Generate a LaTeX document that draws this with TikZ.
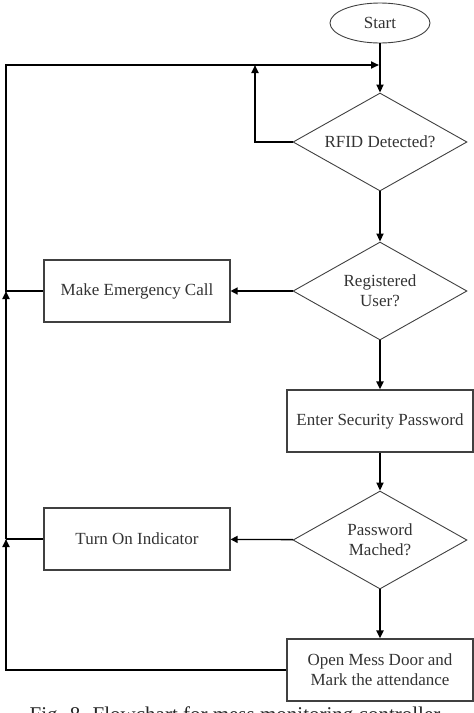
\documentclass[tikz,border=0pt]{standalone}
\usepackage{fontspec}
\setmainfont{Liberation Serif}
\usetikzlibrary{shapes.geometric,arrows.meta,calc}

\begin{document}
\begin{tikzpicture}
  [
    x=1pt, y=-1pt,
    block/.style =
      {draw=black!75, line width=1.1pt, rectangle, align=center, text=black!80,
       minimum width=186pt, minimum height=62pt, font=\fontsize{17}{20}\selectfont},
    decision/.style =
      {draw=black!75, line width=0.9pt, diamond, aspect=1.78, align=center, text=black!80,
       minimum width=174pt, minimum height=98pt, inner sep=1pt, font=\fontsize{17}{20}\selectfont},
    terminal/.style =
      {draw=black!75, line width=0.9pt, ellipse, text=black!80,
       minimum width=100pt, minimum height=40pt, font=\fontsize{17}{20}\selectfont},
    flow/.style =
      {line width=1.9pt, -{Triangle[length=8pt, width=7pt]}},
    back/.style =
      {line width=1.3pt, -{Triangle[length=7pt, width=7pt]}}
  ]

\clip (0,0) rectangle (474,713);

\node[terminal] (start) at (380,23) {Start};
\node[decision] (rfid) at (380,142) {RFID Detected?};
\node[decision] (reg) at (380,291) {Registered\\User?};
\node[block] (pass) at (380,421) {Enter Security Password};
\node[decision] (match) at (380,540) {Password\\Mached?};
\node[block] (open) at (380,670) {Open Mess Door and\\Mark the attendance};

\node[block] (call) at (137,291) {Make Emergency Call};
\node[block] (ind) at (137,539) {Turn On Indicator};

\node[font=\fontsize{21}{24}\selectfont, text=black!85, anchor=base] (cap) at (235,721)
  {Fig. 8. Flowchart for mess monitoring controller};

\coordinate (top) at (379,65);
\coordinate (loop) at (255,65);
\coordinate (lt) at (6,65);
\coordinate (lcall) at (6,291);
\coordinate (lind) at (6,539);

\draw [flow] (start) -- (rfid);
\draw [flow] (rfid.west) -| (loop);
\draw [flow] (call.west) -- (lcall) -- (lt) -- (top);

\draw [flow] (rfid) -- (reg);
\draw [back] (reg) -- (call);
\draw [flow] (reg) -- (pass);
\draw [flow] (pass) -- (match);
\draw [back] (match) -- (ind);
\draw [flow] (match) -- (open);

\draw [line width=1.3pt] (ind.west) -- (lind);
\draw [flow] (open.west) -| (lind);
\draw [flow] (lind) -- (lcall);

\end{tikzpicture}
\end{document}
